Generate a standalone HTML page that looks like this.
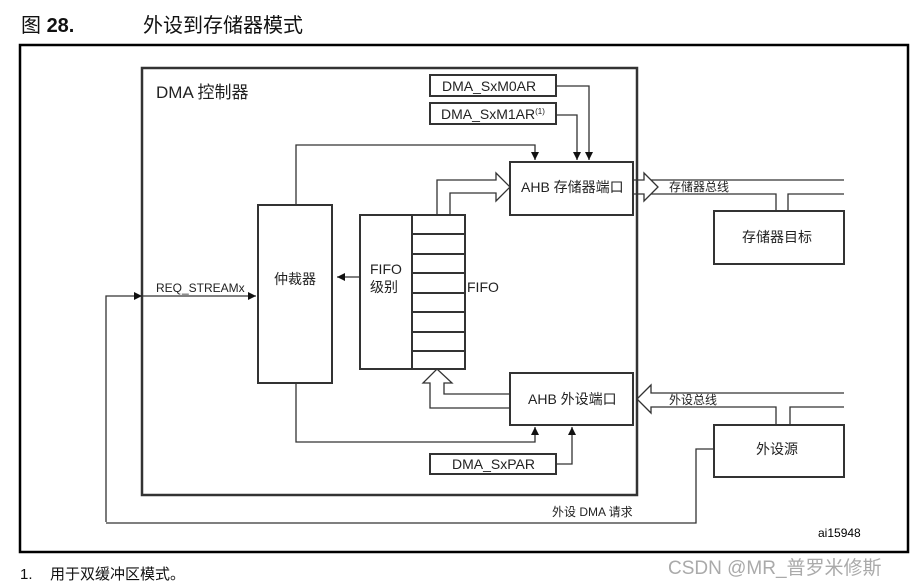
<!DOCTYPE html>
<html><head><meta charset="utf-8"><style>
body{margin:0;background:#fff;}
svg{display:block;font-family:"Liberation Sans","Noto Sans CJK SC",sans-serif;}
</style></head><body>
<svg width="914" height="586" viewBox="0 0 914 586" xmlns="http://www.w3.org/2000/svg">
<defs>
<marker id="a" viewBox="0 0 10 10" refX="10" refY="5" markerWidth="8" markerHeight="8" markerUnits="userSpaceOnUse" orient="auto"><path d="M0,0L10,5L0,10z" fill="#111"/></marker>
</defs>
<text x="21" y="32" font-size="20" fill="#111">图 <tspan font-weight="bold">28.</tspan></text>
<text x="143" y="32" font-size="20" fill="#111">外设到存储器模式</text>
<rect x="20" y="45" width="888" height="507" fill="none" stroke="#000" stroke-width="2.5"/>
<rect x="142" y="68" width="495" height="427" fill="none" stroke="#333" stroke-width="2.5"/>
<text x="156" y="98" font-size="17" fill="#222">DMA 控制器</text>
<g fill="none" stroke="#333" stroke-width="1.3">
<rect x="430" y="75" width="126" height="21" stroke-width="2"/>
<rect x="430" y="103" width="126" height="21" stroke-width="2"/>
<rect x="430" y="454" width="126" height="20" stroke-width="2"/>
<path d="M556,86H589V160" marker-end="url(#a)"/>
<path d="M556,115H577V160" marker-end="url(#a)"/>
<path d="M556,464H572V427" marker-end="url(#a)"/>
<path d="M296,205V145H535V160" marker-end="url(#a)"/>
<path d="M296,383V442H535V427" marker-end="url(#a)"/>
<path d="M106,522V296H256" marker-end="url(#a)"/>
<path d="M360,277H337" marker-end="url(#a)"/>
<rect x="258" y="205" width="74" height="178" stroke-width="2"/>
<rect x="360" y="215" width="105" height="154" stroke-width="2"/>
<line x1="412" y1="215" x2="412" y2="369" stroke-width="2"/>
<path d="M412,234H465M412,254H465M412,273H465M412,293H465M412,312H465M412,332H465M412,351H465" stroke-width="2"/>
<rect x="510" y="162" width="123" height="53" stroke-width="2"/>
<rect x="510" y="373" width="123" height="52" stroke-width="2"/>
<rect x="714" y="211" width="130" height="53" stroke-width="2"/>
<rect x="714" y="425" width="130" height="52" stroke-width="2"/>
<path d="M437,215V180H496V173L510,187L496,201V193H450V215"/>
<path d="M510,408H430V383H423L437,369L452,383H444V394H510"/>
<path d="M633,180H644V173L658,187L644,201V194H633"/>
<path d="M651,180H844M651,194H776V211M788,211V194H844"/>
<path d="M844,393H651V385L637,399L651,413V407H776V425M790,425V407H844"/>
<path d="M714,449H696V523H106"/>
</g>
<path d="M142,296L134,292V300z" fill="#111"/>
<g font-size="13" fill="#222">
<text x="442" y="91" font-size="14">DMA_SxM0AR</text>
<text x="441" y="119" font-size="14">DMA_SxM1AR<tspan font-size="8" dy="-5">(1)</tspan></text>
<text x="452" y="469" font-size="14">DMA_SxPAR</text>
<text x="521" y="192" font-size="14">AHB 存储器端口</text>
<text x="528" y="404" font-size="14">AHB 外设端口</text>
<text x="742" y="242" font-size="14">存储器目标</text>
<text x="756" y="454" font-size="14">外设源</text>
<text x="274" y="284" font-size="14">仲裁器</text>
<text x="370" y="274" font-size="14">FIFO</text>
<text x="370" y="292" font-size="14">级别</text>
<text x="467" y="292" font-size="14">FIFO</text>
<text x="156" y="292" font-size="12">REQ_STREAMx</text>
<text x="669" y="191" font-size="12">存储器总线</text>
<text x="669" y="404" font-size="12">外设总线</text>
<text x="552" y="516" font-size="12">外设 DMA 请求</text>
<text x="818" y="537" font-size="12" fill="#000">ai15948</text>
</g>
<text x="20" y="579" font-size="15" fill="#111">1.<tspan x="50">用于双缓冲区模式。</tspan></text>
<text x="668" y="574" font-size="19" fill="#aaa">CSDN @MR_普罗米修斯</text>
</svg>
</body></html>
